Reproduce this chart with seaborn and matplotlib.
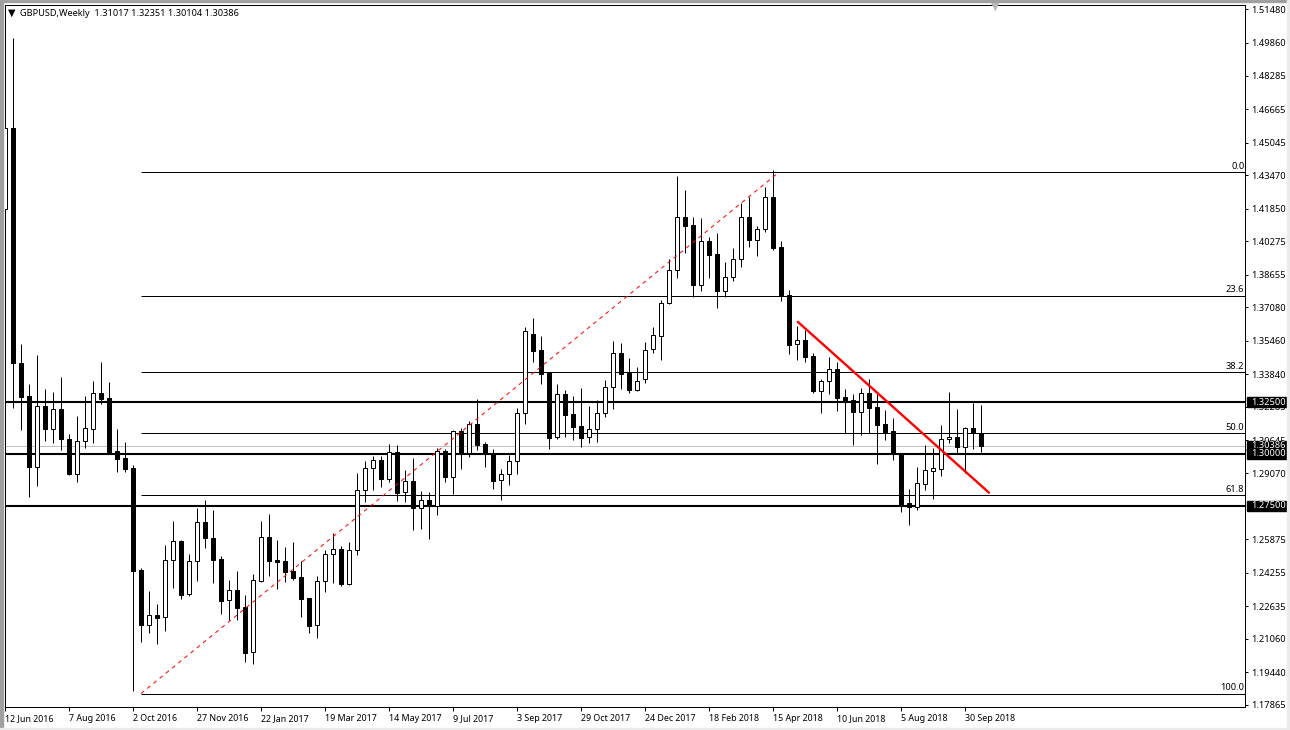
import numpy as np
import pandas as pd
import matplotlib
matplotlib.use('Agg')
import matplotlib.pyplot as plt
from matplotlib.patches import Rectangle
import seaborn as sns

# weekly candles
opens = [1.4183, 1.4575, 1.3440, 1.3280, 1.2937, 1.3232, 1.3121, 1.3217, 1.3072, 1.2903,
         1.3063, 1.3121, 1.3295, 1.3270, 1.3014, 1.2981, 1.2932, 1.2440, 1.2174, 1.2222,
         1.2213, 1.2488, 1.2580, 1.2324, 1.2483, 1.2672, 1.2594, 1.2493, 1.2295, 1.2343,
         1.2261, 1.2044, 1.2387, 1.2599, 1.2488, 1.2483, 1.2435, 1.2406, 1.2304, 1.2174,
         1.2387, 1.2517, 1.2541, 1.2372, 1.2536, 1.2826, 1.2932, 1.2971, 1.2879, 1.3010,
         1.2816, 1.2870, 1.2739, 1.2778, 1.2749, 1.3014, 1.2889, 1.3111, 1.3005, 1.3145,
         1.3048, 1.3000, 1.2874, 1.2903, 1.2966, 1.3198, 1.3580, 1.3502, 1.3396, 1.3082,
         1.3290, 1.3193, 1.3135, 1.3082, 1.3121, 1.3198, 1.3324, 1.3488, 1.3391, 1.3309,
         1.3362, 1.3507, 1.3570, 1.3729, 1.3889, 1.4145, 1.4106, 1.3816, 1.4029, 1.3966,
         1.3787, 1.3855, 1.3942, 1.4145, 1.4034, 1.4087, 1.4241, 1.4000, 1.3768, 1.3531,
         1.3551, 1.3473, 1.3304, 1.3353, 1.3411, 1.3275, 1.3261, 1.3203, 1.3295, 1.3227,
         1.3145, 1.3111, 1.3005, 1.2763, 1.2744, 1.2855, 1.2918, 1.2928, 1.3072, 1.3082,
         1.3034, 1.3126, 1.3102]
highs = [1.4608, 1.5009, 1.3531, 1.3338, 1.3478, 1.3314, 1.3299, 1.3372, 1.3097, 1.3184,
         1.3280, 1.3353, 1.3444, 1.3348, 1.3121, 1.3058, 1.2947, 1.2449, 1.2338, 1.2275,
         1.2560, 1.2676, 1.2585, 1.2517, 1.2739, 1.2778, 1.2730, 1.2507, 1.2391, 1.2435,
         1.2319, 1.2420, 1.2676, 1.2710, 1.2585, 1.2551, 1.2575, 1.2483, 1.2304, 1.2411,
         1.2536, 1.2618, 1.2556, 1.2575, 1.2908, 1.2966, 1.2990, 1.2990, 1.3048, 1.3043,
         1.2923, 1.2981, 1.2821, 1.2816, 1.3029, 1.3024, 1.3116, 1.3126, 1.3159, 1.3266,
         1.3058, 1.3024, 1.2928, 1.2995, 1.3222, 1.3613, 1.3657, 1.3570, 1.3396, 1.3338,
         1.3309, 1.3280, 1.3319, 1.3232, 1.3261, 1.3357, 1.3546, 1.3536, 1.3464, 1.3420,
         1.3541, 1.3613, 1.3744, 1.3942, 1.4343, 1.4275, 1.4145, 1.4140, 1.4048, 1.4067,
         1.3927, 1.3995, 1.4212, 1.4241, 1.4101, 1.4290, 1.4372, 1.4029, 1.3792, 1.3618,
         1.3599, 1.3488, 1.3362, 1.3469, 1.3444, 1.3314, 1.3290, 1.3319, 1.3362, 1.3290,
         1.3213, 1.3174, 1.3005, 1.2831, 1.2937, 1.3043, 1.3029, 1.3140, 1.3299, 1.3217,
         1.3130, 1.3246, 1.3235]
lows = [1.4005, 1.3222, 1.3116, 1.2792, 1.2845, 1.3063, 1.3053, 1.3019, 1.2899, 1.2865,
        1.3029, 1.3053, 1.3242, 1.3005, 1.2913, 1.2913, 1.1855, 1.2092, 1.2135, 1.2082,
        1.2145, 1.2353, 1.2300, 1.2314, 1.2387, 1.2546, 1.2377, 1.2227, 1.2198, 1.2198,
        1.1995, 1.1986, 1.2382, 1.2411, 1.2348, 1.2382, 1.2391, 1.2213, 1.2135, 1.2111,
        1.2333, 1.2377, 1.2362, 1.2367, 1.2512, 1.2768, 1.2826, 1.2841, 1.2865, 1.2773,
        1.2768, 1.2633, 1.2638, 1.2589, 1.2705, 1.2865, 1.2807, 1.2928, 1.2986, 1.3019,
        1.2937, 1.2831, 1.2778, 1.2850, 1.2903, 1.3145, 1.3444, 1.3338, 1.3024, 1.3072,
        1.3082, 1.3068, 1.3034, 1.3053, 1.3058, 1.3179, 1.3217, 1.3314, 1.3295, 1.3304,
        1.3343, 1.3488, 1.3454, 1.3725, 1.3850, 1.3971, 1.3758, 1.3787, 1.3850, 1.3705,
        1.3758, 1.3836, 1.3903, 1.4000, 1.3956, 1.4072, 1.3985, 1.3739, 1.3483, 1.3454,
        1.3444, 1.3295, 1.3198, 1.3290, 1.3208, 1.3101, 1.3043, 1.3092, 1.3101, 1.2952,
        1.3068, 1.2971, 1.2720, 1.2657, 1.2730, 1.2826, 1.2783, 1.2894, 1.3053, 1.3005,
        1.2908, 1.3024, 1.3010]
closes = [1.4575, 1.3440, 1.3275, 1.2937, 1.3232, 1.3121, 1.3217, 1.3072, 1.2903, 1.3063,
          1.3126, 1.3295, 1.3266, 1.3010, 1.2976, 1.2928, 1.2435, 1.2174, 1.2222, 1.2208,
          1.2488, 1.2580, 1.2319, 1.2483, 1.2672, 1.2594, 1.2488, 1.2290, 1.2343, 1.2256,
          1.2039, 1.2391, 1.2599, 1.2483, 1.2478, 1.2430, 1.2401, 1.2300, 1.2169, 1.2387,
          1.2517, 1.2541, 1.2372, 1.2536, 1.2826, 1.2932, 1.2971, 1.2879, 1.3010, 1.2812,
          1.2870, 1.2739, 1.2778, 1.2749, 1.3014, 1.2889, 1.3111, 1.3005, 1.3145, 1.3043,
          1.3000, 1.2870, 1.2903, 1.2966, 1.3198, 1.3594, 1.3497, 1.3386, 1.3077, 1.3290,
          1.3188, 1.3130, 1.3077, 1.3121, 1.3198, 1.3324, 1.3488, 1.3386, 1.3309, 1.3353,
          1.3502, 1.3575, 1.3729, 1.3889, 1.4145, 1.4101, 1.3816, 1.4029, 1.3961, 1.3787,
          1.3855, 1.3942, 1.4145, 1.4034, 1.4087, 1.4241, 1.3995, 1.3768, 1.3526, 1.3551,
          1.3469, 1.3304, 1.3353, 1.3411, 1.3270, 1.3251, 1.3203, 1.3295, 1.3222, 1.3140,
          1.3106, 1.3005, 1.2754, 1.2744, 1.2860, 1.2923, 1.2932, 1.3072, 1.3082, 1.3034,
          1.3126, 1.3101, 1.3039]

date_labels = ['12 Jun 2016', '7 Aug 2016', '2 Oct 2016', '27 Nov 2016', '22 Jan 2017', '19 Mar 2017',
               '14 May 2017', '9 Jul 2017', '3 Sep 2017', '29 Oct 2017', '24 Dec 2017', '18 Feb 2018',
               '15 Apr 2018', '10 Jun 2018', '5 Aug 2018', '30 Sep 2018']
price_ticks = ['1.51480', '1.49860', '1.48285', '1.46665', '1.45045', '1.43470', '1.41850', '1.40275',
               '1.38655', '1.37080', '1.35460', '1.33840', '1.32285', '1.30645', '1.29070',
               '1.25875', '1.24255', '1.22635', '1.21060', '1.19440', '1.17865']

fib_names = ['0.0', '23.6', '38.2', '50.0', '61.8', '100.0']
fib_prices = [1.4360, 1.3765, 1.3396, 1.3101, 1.2802, 1.1841]
fib_start = 17
fib_diag_x = [17, 96.7]
fib_diag_y = [1.1841, 1.4360]

trend_x = [99.1, 123]
trend_y = [1.3638, 1.2812]

key_levels = [1.325, 1.300, 1.275]
key_labels = ['1.32500', '1.30000', '1.27500']
bid_price = 1.30386
bid_label = '1.30386'

opens, highs, lows, closes = map(np.array, (opens, highs, lows, closes))
weeks = np.arange(len(opens))

sns.set_style('white')
plt.rcParams['font.family'] = ['Noto Sans', 'DejaVu Sans']
plt.rcParams['font.size'] = 6.7

fig = plt.figure(figsize=(12.9, 7.3), dpi=100)
ax = fig.add_axes([4.7 / 1290, 1 - 707 / 730, (1245 - 4.7) / 1290, (707 - 4.5) / 730])

# pixel scale of the terminal window
ax.set_xlim(-0.04, 155)
ax.set_ylim(1.1776, 1.5172)

# horizontal levels
ax.axhline(bid_price, color='#c0c0c0', lw=0.72, zorder=1)
for level in key_levels:
    ax.axhline(level, color='black', lw=1.5, zorder=1.5)
ax.hlines(fib_prices, fib_start, 155, color='black', lw=0.72, zorder=1.2)

# wicks
wicks = pd.DataFrame({
    'week': np.concatenate([weeks, weeks]),
    'price': np.concatenate([lows, highs]),
})
sns.lineplot(data=wicks, x='week', y='price', units='week', estimator=None, color='black',
             linewidth=0.72, legend=False, ax=ax, zorder=2, solid_capstyle='butt')

# bodies
body_low = np.minimum(opens, closes)
body_size = np.abs(opens - closes)
body_color = ['black' if c < o else 'white' for o, c in zip(opens, closes)]
ax.bar(weeks, body_size, bottom=body_low, width=0.55, color=body_color, edgecolor='black',
       linewidth=0.72, zorder=3)

# fibo diagonal and hand drawn trend line
sns.lineplot(x=fib_diag_x, y=fib_diag_y, color='red', linewidth=0.72, linestyle=(0, (4, 4)),
             ax=ax, zorder=4)
sns.lineplot(x=trend_x, y=trend_y, color='red', linewidth=1.7, ax=ax, zorder=5)

for name, price in zip(fib_names, fib_prices):
    ax.annotate(name, xy=(1, price), xycoords=ax.get_yaxis_transform(), xytext=(-0.5, 2.2),
                textcoords='offset points', ha='right', va='baseline', color='black', zorder=6)

# axes
ax.set_xlabel('')
ax.set_ylabel('')
ax.set_xticks(weeks[::8])
ax.set_xticklabels(date_labels, ha='left', fontsize=6.4)
ax.yaxis.tick_right()
ax.set_yticks([float(t) for t in price_ticks])
ax.set_yticklabels(price_ticks)
ax.tick_params(axis='x', length=3, width=0.72, pad=2.2, color='black', labelcolor='black', bottom=True)
ax.tick_params(axis='y', length=2.2, width=0.72, pad=2.5, color='black', labelcolor='black', right=True)
for spine in ax.spines.values():
    spine.set_color('black')
    spine.set_linewidth(0.72)

# price boxes on the right scale
px_x = 1 / 1240.3
px_y = 0.000483
box_prices = [bid_price] + key_levels
box_labels = [bid_label] + key_labels
for price, label in zip(box_prices, box_labels):
    ax.add_patch(Rectangle((1 + 2 * px_x, price - 5 * px_y), 41 * px_x, 10 * px_y, color='black',
                           transform=ax.get_yaxis_transform(), clip_on=False, zorder=8))
    ax.text(1 + 6 * px_x, price, label, color='white', va='center', ha='left',
            transform=ax.get_yaxis_transform(), zorder=9)

# header and window furniture
fig.text(20 / 1290, 1 - 13 / 730, 'GBPUSD,Weekly  1.31017 1.32351 1.30104 1.30386', color='black',
         va='center', ha='left', fontsize=6.6)
fig.text(11.5 / 1290, 1 - 12.5 / 730, '\u25bc', color='black', va='center', ha='center', fontsize=7,
         family=['DejaVu Sans'])
fig.text(995 / 1290, 1 - 7 / 730, '\u25bc', color='#b8b8b8', va='center', ha='center', fontsize=8,
         family=['DejaVu Sans'])
fig.patches.append(Rectangle((0, 1 - 2 / 730), 1, 2 / 730, color='#a0a0a0', transform=fig.transFigure))
fig.patches.append(Rectangle((0, 0), 2.5 / 1290, 1, color='#a0a0a0', transform=fig.transFigure))
fig.patches.append(Rectangle((1287 / 1290, 0), 3 / 1290, 1, color='#ececec', transform=fig.transFigure))
fig.patches.append(Rectangle((0, 0), 1, 2 / 730, color='#ececec', transform=fig.transFigure))

fig.savefig('out.png', dpi=100)
